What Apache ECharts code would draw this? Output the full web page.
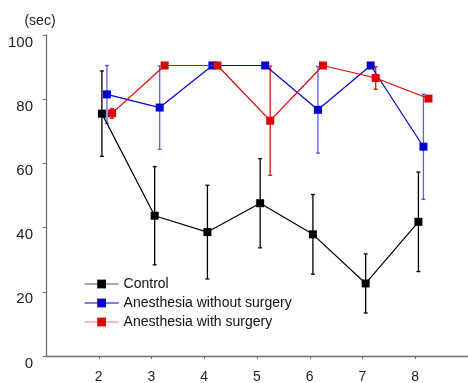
<!DOCTYPE html>
<html>
<head>
<meta charset="utf-8">
<script src="https://cdn.jsdelivr.net/npm/echarts@6/dist/echarts.min.js"></script>
<style>
html,body{margin:0;padding:0;background:#fff;}
#chart{width:468px;height:383px;}
</style>
</head>
<body>
<div id="chart"></div>
<script>
// ---- data ----
const xTicks = [2, 3, 4, 5, 6, 7, 8];
const yTicks = [0, 20, 40, 60, 80, 100];
const seriesNames = ['Control', 'Anesthesia without surgery', 'Anesthesia with surgery'];
const controlMean = [75.5, 43.7, 38.6, 47.6, 37.9, 22.6, 41.8];
const controlErr  = [13.3, 15.3, 14.6, 13.9, 12.4, 9.2, 15.5];
const noSurgMean  = [81.5, 77.4, 90.5, 90.5, 76.7, 90.5, 65.2];
const noSurgErr   = [9.0, 13.0, 0, 0, 13.5, 0, 16.4];
const surgMean    = [75.6, 90.5, 90.5, 73.3, 90.5, 86.6, 80.2];
const surgErr     = [1.5, 0, 0, 17.0, 0, 3.5, 0];

// ---- presentation ----
const offsets = [0.06, 0.155, 0.25];
const colors = ['#000000', '#0000d0', '#dd0000'];
const errColors = ['#000000', 'rgba(40,40,220,0.75)', '#e01010'];
const legendLine = ['#555555', '#0000c0', '#ee7a7a'];

const means = [controlMean, noSurgMean, surgMean];
const errs = [controlErr, noSurgErr, surgErr];

function pts(i) {
  return xTicks.map((x, k) => [x + offsets[i], means[i][k]]);
}
function errData(i) {
  return xTicks.map((x, k) => [x + offsets[i], means[i][k] - errs[i][k], means[i][k] + errs[i][k]]);
}
function errSeries(i) {
  return {
    type: 'custom',
    name: seriesNames[i] + ' SD',
    data: errData(i),
    z: 1,
    silent: true,
    renderItem: function (params, api) {
      const x = api.value(0), lo = api.value(1), hi = api.value(2);
      if (hi - lo < 0.01) return null;
      const pLo = api.coord([x, lo]);
      const pHi = api.coord([x, hi]);
      const cap = 2;
      const style = { stroke: errColors[i], lineWidth: 1.3, fill: null };
      return {
        type: 'group',
        children: [
          { type: 'line', shape: { x1: pLo[0], y1: pLo[1], x2: pHi[0], y2: pHi[1] }, style: style },
          { type: 'line', shape: { x1: pLo[0] - cap, y1: pLo[1], x2: pLo[0] + cap, y2: pLo[1] }, style: style },
          { type: 'line', shape: { x1: pHi[0] - cap, y1: pHi[1], x2: pHi[0] + cap, y2: pHi[1] }, style: style }
        ]
      };
    }
  };
}
function lineSeries(i) {
  return {
    type: 'line',
    name: seriesNames[i],
    data: pts(i),
    z: 2 + i,
    symbol: 'rect',
    symbolSize: 8,
    showAllSymbol: true,
    lineStyle: { color: colors[i], width: 1.2 },
    itemStyle: { color: colors[i] },
    emphasis: { disabled: true },
    animation: false
  };
}

const chart = echarts.init(document.getElementById('chart'), null, { renderer: 'canvas' });
const axisGray = '#6e6e6e';
chart.setOption({
  animation: false,
  backgroundColor: '#fff',
  textStyle: { fontFamily: 'Liberation Sans, Arial, sans-serif' },
  grid: { left: 46, right: 0, top: 35, bottom: 27, containLabel: false, outerBoundsMode: 'none' },
  legend: {
    orient: 'vertical',
    left: 79,
    top: 272,
    itemWidth: 34,
    itemHeight: 11,
    itemGap: 5,
    selectedMode: false,
    textStyle: { fontSize: 14, color: '#111', fontFamily: 'Liberation Sans, Arial, sans-serif' },
    data: seriesNames.map((n, i) => ({ name: n, lineStyle: { color: legendLine[i], width: 1.2 }, itemStyle: { color: colors[i] } }))
  },
  xAxis: {
    type: 'value',
    min: 1,
    max: 9,
    interval: 1,
    splitLine: { show: false },
    axisLine: { show: true, lineStyle: { color: axisGray, width: 1.3 } },
    axisTick: { show: true, length: 3, lineStyle: { color: axisGray }, customValues: xTicks },
    axisLabel: { customValues: xTicks, fontSize: 14, color: '#222', margin: 14 }
  },
  yAxis: {
    type: 'value',
    min: yTicks[0],
    max: yTicks[yTicks.length - 1],
    interval: 20,
    name: '(sec)',
    nameLocation: 'end',
    nameGap: 7,
    nameTextStyle: { fontSize: 14, color: '#222', align: 'center', padding: [0, 12, 0, 0] },
    splitLine: { show: false },
    axisLine: { show: true, lineStyle: { color: axisGray, width: 1.3 } },
    axisTick: { show: true, length: 3, lineStyle: { color: axisGray } },
    axisLabel: { fontSize: 15, color: '#222', margin: 13, verticalAlign: 'top', lineHeight: 15 }
  },
  series: [errSeries(0), errSeries(1), errSeries(2), lineSeries(0), lineSeries(1), lineSeries(2)]
});
</script>
</body>
</html>
